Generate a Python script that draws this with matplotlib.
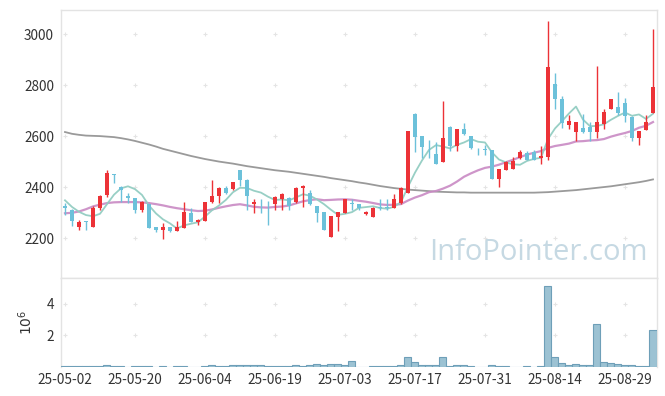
import matplotlib
matplotlib.use("Agg")
import matplotlib.pyplot as plt
import numpy as np

# ---------------- data ----------------
dates = ["25-05-02","25-05-07","25-05-08","25-05-09","25-05-12","25-05-13","25-05-14","25-05-15","25-05-16","25-05-19",
         "25-05-20","25-05-21","25-05-22","25-05-23","25-05-26","25-05-27","25-05-28","25-05-29","25-05-30","25-06-02",
         "25-06-04","25-06-05","25-06-09","25-06-10","25-06-11","25-06-12","25-06-13","25-06-16","25-06-17","25-06-18",
         "25-06-19","25-06-20","25-06-23","25-06-24","25-06-25","25-06-26","25-06-27","25-06-30","25-07-01","25-07-02",
         "25-07-03","25-07-04","25-07-07","25-07-08","25-07-09","25-07-10","25-07-11","25-07-14","25-07-15","25-07-16",
         "25-07-17","25-07-18","25-07-21","25-07-22","25-07-23","25-07-24","25-07-25","25-07-28","25-07-29","25-07-30",
         "25-07-31","25-08-01","25-08-04","25-08-05","25-08-06","25-08-07","25-08-08","25-08-11","25-08-12","25-08-13",
         "25-08-14","25-08-18","25-08-19","25-08-20","25-08-21","25-08-22","25-08-25","25-08-26","25-08-27","25-08-28",
         "25-08-29","25-09-01","25-09-02","25-09-03","25-09-04"]

opens = [2326,2311,2245,2267,2245,2318,2370,2451,2399,2366,
         2357,2308,2334,2242,2232,2242,2229,2241,2297,2261,
         2268,2340,2363,2397,2391,2465,2429,2332,2343,2343,
         2334,2354,2358,2340,2395,2376,2326,2303,2203,2284,
         2299,2336,2332,2295,2284,2321,2321,2319,2336,2378,
         2686,2600,2562,2529,2500,2636,2563,2626,2600,2543,
         2550,2545,2430,2467,2472,2516,2534,2537,2515,2519,
         2804,2745,2643,2617,2630,2636,2617,2646,2706,2713,
         2728,2676,2591,2623,2691]
highs = [2337,2313,2271,2268,2326,2370,2465,2452,2403,2376,
         2357,2345,2334,2243,2258,2243,2266,2342,2317,2274,
         2342,2429,2400,2406,2420,2466,2430,2353,2353,2344,
         2363,2375,2359,2401,2408,2387,2327,2304,2287,2304,
         2355,2353,2333,2307,2320,2352,2352,2371,2401,2619,
         2690,2601,2584,2575,2738,2640,2627,2650,2601,2555,
         2565,2546,2469,2504,2519,2545,2540,2545,2561,3051,
         2849,2757,2682,2656,2686,2656,2874,2708,2744,2774,
         2748,2677,2619,2682,3019]
lows = [2291,2249,2232,2231,2244,2308,2361,2414,2343,2339,
        2297,2304,2240,2222,2195,2222,2228,2240,2261,2250,
        2266,2337,2337,2372,2389,2403,2308,2297,2300,2250,
        2308,2308,2308,2338,2321,2331,2264,2231,2202,2227,
        2298,2310,2310,2290,2282,2310,2310,2317,2334,2375,
        2536,2515,2516,2489,2498,2542,2542,2606,2548,2525,
        2525,2430,2399,2465,2470,2510,2505,2508,2490,2506,
        2708,2632,2626,2580,2612,2580,2591,2627,2705,2682,
        2656,2580,2565,2622,2690]
closes = [2316,2268,2263,2262,2318,2364,2457,2449,2387,2358,
          2308,2343,2241,2232,2242,2229,2242,2303,2264,2271,
          2340,2366,2397,2376,2420,2426,2363,2342,2340,2340,
          2361,2374,2324,2397,2403,2332,2300,2232,2287,2303,
          2353,2333,2316,2302,2319,2319,2319,2353,2395,2619,
          2597,2558,2560,2489,2591,2561,2626,2608,2555,2540,
          2546,2430,2469,2499,2502,2537,2506,2508,2521,2871,
          2744,2650,2659,2656,2615,2615,2654,2693,2744,2691,
          2680,2591,2619,2656,2793]

ma5 = [2348,2322,2303,2290,2285.4,2295,2332.8,2370,2395,2403,
       2391.8,2369,2327.4,2296.4,2273.2,2257.4,2237.2,2249.6,2256,2261.8,
       2284,2308.8,2327.6,2350,2379.8,2397,2396.4,2385.4,2378.2,2362.2,
       2349.2,2351.4,2347.8,2359.2,2371.8,2366,2351.2,2332.8,2310.8,2290.8,
       2295,2301.6,2318.4,2321.4,2324.6,2317.8,2315,2322.4,2341,2401,
       2456.6,2504.4,2545.8,2564.6,2559,2551.8,2565.4,2575,2588.2,2578,
       2575,2535.8,2508,2496.8,2489.2,2487.4,2502.6,2510.4,2514.8,2588.6,
       2630,2658.8,2689,2716,2664.8,2639,2639.8,2646.6,2664.2,2679.4,
       2692.4,2679.8,2685,2667.4,2687.8]
ma20 = [2297,2299,2304,2313,2324,2331,2337,2340,2341,2341,
        2341,2340,2337,2333,2328,2322,2317,2313,2309,2305.9,
        2307.1,2312,2318.7,2324.4,2329.5,2332.6,2327.9,2322.5,2320.2,2319.3,
        2321.9,2323.5,2327.6,2335.9,2343.9,2349.1,2352,2348.4,2349.6,2351.2,
        2351.8,2350.2,2346.1,2342.4,2337.4,2332,2329.8,2330.4,2333.1,2347.1,
        2358.9,2368.1,2379.9,2384.5,2393.9,2405.3,2421.6,2440.4,2453.8,2465.7,
        2475.3,2480.2,2487.8,2497.7,2506.8,2517.7,2527.1,2534.8,2541.1,2553.7,
        2561.1,2565.7,2570.6,2579,2580.2,2582.9,2584.3,2588.5,2598,2605.5,
        2612.2,2620.3,2632.8,2640.6,2655.2]
ma120 = [2616,2609,2605,2602,2601,2600,2598,2596,2592,2587,
         2581,2574,2567,2559,2550,2543,2536,2529,2522,2516,
         2510,2505,2500,2496,2492,2487,2482,2478,2474,2470,
         2466,2463,2460,2456,2452,2448,2444,2440,2435,2431,
         2427,2423,2418,2414,2409,2404,2400,2396,2393,2390,
         2388,2386,2384,2382,2381,2380,2379,2379,2378,2378,
         2378,2378,2378,2378,2378,2378,2378,2378,2379,2380,
         2382,2384,2386,2388,2391,2394,2397,2400,2403,2407,
         2411,2415,2419,2424,2430]

volume_m = [0.08,0.08,0.08,0.08,0.08,0.08,0.15,0.08,0.08,0.01,
            0.08,0.08,0.08,0.01,0.08,0.01,0.08,0.08,0.01,0.01,
            0.08,0.15,0.08,0.08,0.12,0.12,0.12,0.12,0.12,0.08,
            0.08,0.08,0.08,0.15,0.08,0.15,0.19,0.15,0.2,0.2,
            0.15,0.4,0.01,0.01,0.08,0.08,0.08,0.08,0.15,0.65,
            0.33,0.15,0.15,0.15,0.65,0.06,0.15,0.15,0.08,0.01,
            0.01,0.15,0.08,0.08,0.01,0.01,0.08,0.01,0.08,5.08,
            0.65,0.27,0.15,0.2,0.15,0.15,2.7,0.33,0.27,0.2,
            0.15,0.15,0.08,0.08,2.33]

tick_idx = [0, 10, 20, 30, 40, 50, 60, 70, 80]
price_ticks = [2200, 2400, 2600, 2800, 3000]
vol_ticks = [2, 4]

# ---------------- styling ----------------
plt.rcParams['font.family'] = ['Noto Sans CJK KR', 'DejaVu Sans']
UP = '#ec3237'
DOWN = '#6cc1da'
GRIDC = '#e4e4e4'
SPINEC = '#e3e3e3'
TXT = '#333333'

fig = plt.figure(figsize=(6.65, 3.96), dpi=100)
ax = fig.add_axes([61/665, 1-278/396, (656.5-61)/665, (278-10)/396])
axv = fig.add_axes([61/665, 1-367.3/396, (656.5-61)/665, (367.3-278)/396], sharex=ax)

x = np.arange(len(closes))
o = np.array(opens, float); c = np.array(closes, float)
h = np.array(highs, float); l = np.array(lows, float)
up = c >= o
colors = np.where(up, UP, DOWN)

# MA lines
ax.plot(x, ma120, color='#9a9a9a', lw=1.3, zorder=2)
ax.plot(x, ma20, color='#c98ac4', lw=1.6, alpha=0.9, zorder=2)
ax.plot(x, ma5, color='#93cdc2', lw=1.3, alpha=0.95, zorder=2)

# candles
ax.vlines(x, l, h, colors=colors, lw=1.0, zorder=3)
body_bottom = np.minimum(o, c)
body_h = np.maximum(np.abs(c - o), 3.0)
ax.bar(x, body_h, bottom=body_bottom, width=0.6, color=colors, edgecolor='none', zorder=4)

ax.set_xlim(-0.57, 84.5)
ax.set_ylim(2043, 3095)
ax.set_yticks(price_ticks)
ax.set_yticklabels([str(v) for v in price_ticks])
ax.tick_params(axis='y', length=0, pad=5, labelsize=9.8, labelcolor=TXT)
ax.tick_params(axis='x', length=0, labelbottom=False)
for s in ax.spines.values():
    s.set_color(SPINEC); s.set_linewidth(1.0)

# plus-shaped grid markers
gx, gy = np.meshgrid(tick_idx, price_ticks)
ax.scatter(gx.ravel(), gy.ravel(), marker='+', s=12, color=GRIDC, lw=0.8, zorder=1)

# watermark
ax.text(0.985, 0.04, 'InfoPointer.com', transform=ax.transAxes, ha='right', va='bottom',
        fontsize=21, color='#c6d9e3', family=['Open Sans', 'DejaVu Sans'], zorder=0)

# volume
axv.bar(x, volume_m, width=1.0, color='#9cc2d3', edgecolor='#6e9fb8', lw=0.8, zorder=3)
axv.set_ylim(0, 5.61)
axv.set_yticks(vol_ticks)
axv.set_yticklabels([str(v) for v in vol_ticks])
axv.tick_params(axis='y', length=0, pad=5, labelsize=9.8, labelcolor=TXT)
axv.set_xticks(tick_idx)
axv.set_xticklabels([dates[i] for i in tick_idx])
axv.tick_params(axis='x', length=0, pad=4, labelsize=9.8, labelcolor=TXT)
axv.set_ylabel('$10^6$', fontsize=10, color=TXT, labelpad=8, family='DejaVu Sans')
for s in axv.spines.values():
    s.set_color(SPINEC); s.set_linewidth(1.0)
axv.spines['bottom'].set_visible(False)
gx, gy = np.meshgrid(tick_idx, vol_ticks)
axv.scatter(gx.ravel(), gy.ravel(), marker='+', s=12, color=GRIDC, lw=0.8, zorder=1)

fig.savefig('out.png', dpi=100)
